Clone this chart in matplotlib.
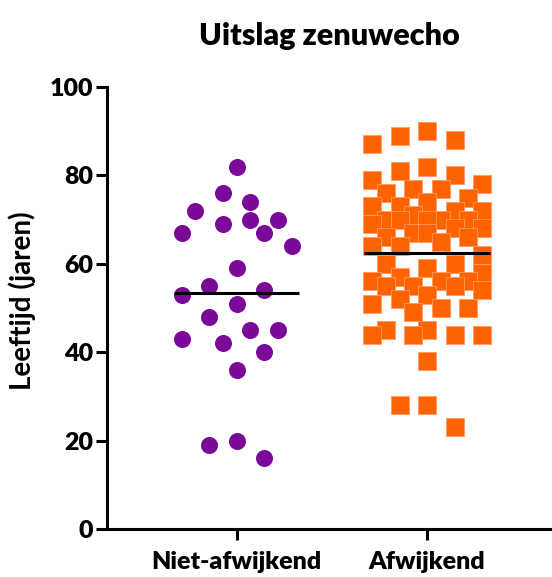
import numpy as np
import matplotlib
matplotlib.use("Agg")
import matplotlib.pyplot as plt

# leeftijd per groep (jaren)
groups = ["Niet-afwijkend", "Afwijkend"]
niet_afwijkend = [82, 76, 74, 72, 70, 69, 70, 67, 67, 64, 59, 55, 54, 53,
                  51, 48, 45, 45, 43, 42, 40, 36, 20, 19, 16]
afwijkend = [90, 89, 88, 87,
             82, 81, 80,
             79, 78, 77, 77, 76,
             75, 74, 73, 73, 72, 72, 71, 70, 70, 70, 70, 70, 69, 68, 68,
             67, 67, 66, 66, 65, 64, 64, 62, 59, 60, 60,
             58, 57, 56, 56, 56, 55, 55, 55, 54, 53, 52, 51, 50, 50, 49,
             44, 45, 44, 45, 44, 44,
             38, 28, 28, 23]
y_ticks = [0, 20, 40, 60, 80, 100]

purple = "#7A0899"
orange = "#FF6300"

plt.rcParams["font.family"] = ["Lato", "DejaVu Sans"]
plt.rcParams["font.weight"] = "heavy"

fig = plt.figure(figsize=(5.52, 5.77), dpi=100)
ax = fig.add_axes([107 / 552, 48 / 577, 445 / 552, 442 / 577])
ax.set_xlim(-0.68, 1.655)
ax.set_ylim(0, 100)


def swarm(ax, x0, values, half_px=55, n_lanes=9, cap=27):
    """spread points over a few lanes, keeping them apart as far as possible"""
    lanes = np.linspace(-half_px, half_px, n_lanes)
    lanes = lanes[np.argsort(np.abs(lanes), kind="stable")]
    to_px = ax.transData.transform
    to_data = ax.transData.inverted().transform
    placed = []
    xs = []
    for v in values:
        cx, cy = to_px((x0, v))
        best, best_score = cx, -1.0
        for off in lanes:
            px = cx + off
            d = min([np.hypot(px - qx, cy - qy) for qx, qy in placed] or [np.inf])
            score = min(d, cap)
            if score > best_score + 1e-9:
                best, best_score = px, score
        placed.append((best, cy))
        xs.append(to_data((best, cy))[0])
    return np.array(xs)


x_niet = swarm(ax, 0, niet_afwijkend)
x_afw = swarm(ax, 1, afwijkend)

ax.scatter(x_niet, niet_afwijkend, s=150, marker="o", color=purple,
           linewidths=0, zorder=3)
ax.scatter(x_afw, afwijkend, s=150, marker="s", color=orange,
           edgecolors="#FF9A60", linewidths=0.6, zorder=3)

# gemiddelde per groep
for i, vals in enumerate([niet_afwijkend, afwijkend]):
    ax.hlines(np.mean(vals), i - 0.33, i + 0.33, color="black",
              linewidth=2.2, zorder=4)

ax.spines["top"].set_visible(False)
ax.spines["right"].set_visible(False)
ax.spines["left"].set_linewidth(2.2)
ax.spines["bottom"].set_linewidth(2.2)

ax.set_yticks(y_ticks)
ax.set_xticks([0, 1])
ax.set_xticklabels(groups)
ax.tick_params(axis="both", width=2.2, length=8, labelsize=18)
ax.tick_params(axis="y", pad=2)
ax.tick_params(axis="x", pad=8)

ax.set_ylabel("Leeftijd (jaren)", fontsize=20, fontweight="bold")
ax.yaxis.set_label_coords(-0.16, 0.516)
ax.set_title("Uitslag zenuwecho", fontsize=22, fontweight="heavy", pad=30)

fig.savefig("out.png", dpi=100)
